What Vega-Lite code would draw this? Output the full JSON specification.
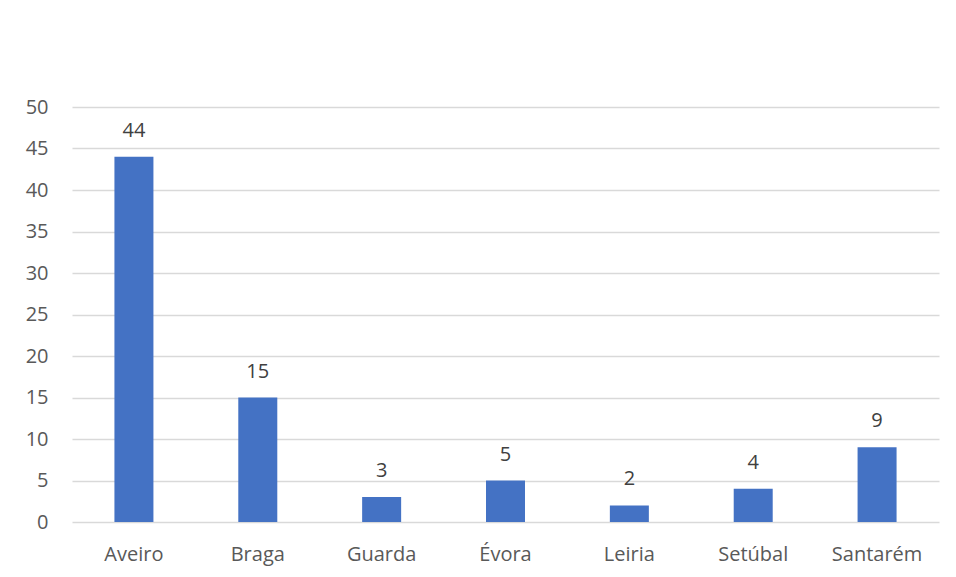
{
  "$schema": "https://vega.github.io/schema/vega-lite/v6.json",
  "autosize": {"type": "none"},
  "width": 867,
  "height": 415,
  "padding": {"left": 72, "top": 107, "right": 17, "bottom": 55},
  "background": "#ffffff",
  "config": {
    "view": {"stroke": null},
    "font": "Open Sans"
  },
  "data": {
    "values": [
      {"district": "Aveiro", "count": 44},
      {"district": "Braga", "count": 15},
      {"district": "Guarda", "count": 3},
      {"district": "Évora", "count": 5},
      {"district": "Leiria", "count": 2},
      {"district": "Setúbal", "count": 4},
      {"district": "Santarém", "count": 9}
    ]
  },
  "encoding": {
    "x": {
      "field": "district",
      "type": "nominal",
      "sort": null,
      "scale": {"paddingInner": 0, "paddingOuter": 0},
      "axis": {
        "title": null,
        "labelAngle": 0,
        "ticks": false,
        "domain": false,
        "labelFontSize": 20,
        "labelColor": "#595959",
        "labelBaseline": "alphabetic",
        "labelPadding": 38,
        "labelFont": "Open Sans"
      }
    },
    "y": {
      "field": "count",
      "type": "quantitative",
      "scale": {"domain": [0, 50]},
      "axis": {
        "title": null,
        "values": [0, 5, 10, 15, 20, 25, 30, 35, 40, 45, 50],
        "ticks": false,
        "domain": false,
        "grid": true,
        "gridColor": "#d9d9d9",
        "gridWidth": 1.3,
        "labelFontSize": 20,
        "labelColor": "#595959",
        "labelPadding": 24,
        "labelFont": "Open Sans"
      }
    }
  },
  "layer": [
    {"mark": {"type": "bar", "size": 39, "color": "#4472c4"}},
    {
      "mark": {
        "type": "text",
        "baseline": "alphabetic",
        "dy": -20,
        "fontSize": 20,
        "color": "#404040",
        "font": "Open Sans"
      },
      "encoding": {"text": {"field": "count", "type": "quantitative"}}
    }
  ]
}
